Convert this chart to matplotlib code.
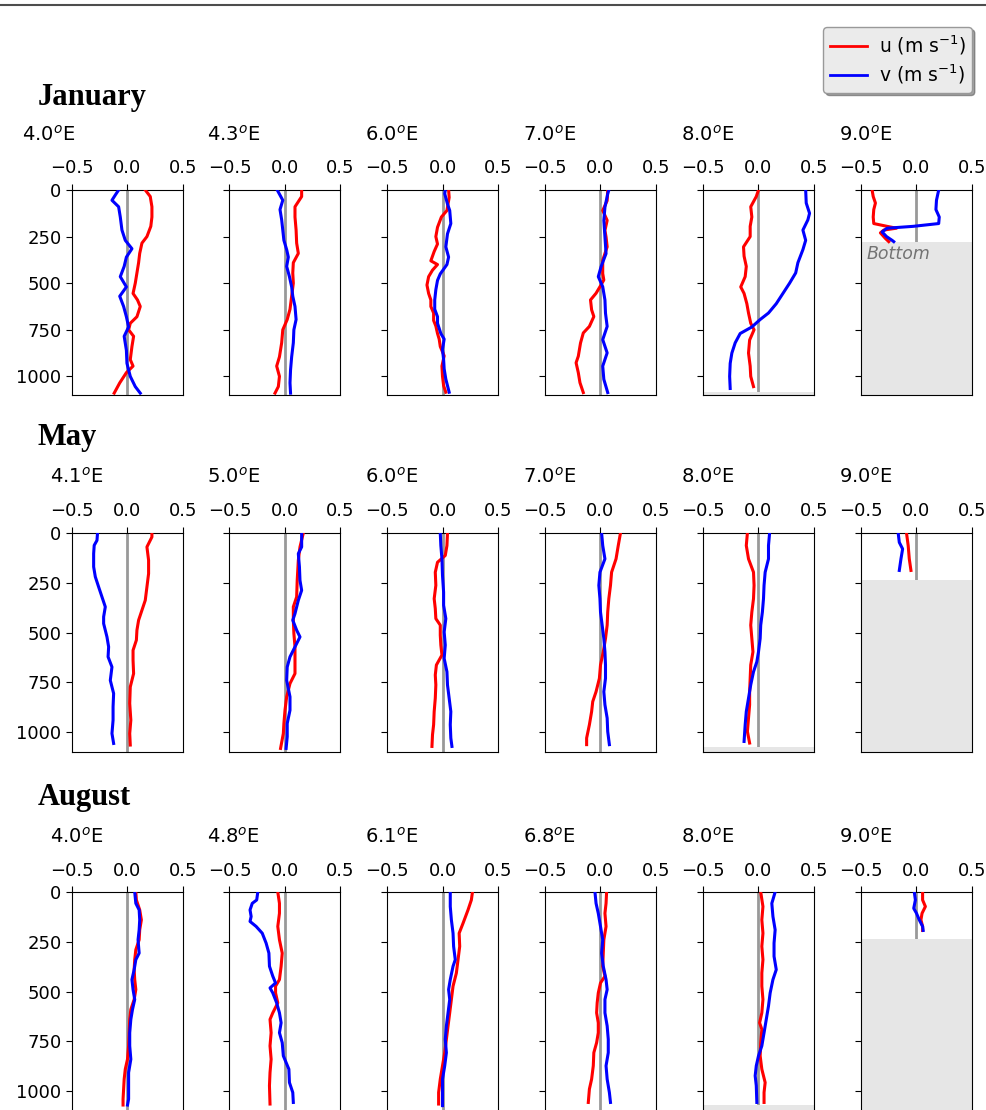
import matplotlib
matplotlib.use('Agg')
import numpy as np
import matplotlib.pyplot as plt
from matplotlib.lines import Line2D

# ---- January ----
jan1_zu = [0, 35, 90, 145, 195, 250, 285, 340, 390, 445, 500, 555, 590, 625, 680, 715, 750, 785, 840, 910, 945, 980, 1035, 1090]
jan1_u = [0.16, 0.205, 0.22, 0.22, 0.21, 0.175, 0.13, 0.11, 0.1, 0.085, 0.07, 0.05, 0.09, 0.115, 0.085, 0.025, 0.01, 0.055, 0.04, 0.025, 0.05, -0.01, -0.07, -0.12]
jan1_zv = [0, 27, 55, 90, 145, 215, 270, 315, 360, 410, 465, 520, 570, 625, 680, 735, 785, 860, 930, 1000, 1055, 1090]
jan1_v = [-0.08, -0.11, -0.14, -0.08, -0.065, -0.05, -0.02, 0.04, -0.01, -0.03, -0.065, -0.01, -0.07, -0.035, -0.01, 0.01, -0.03, -0.01, -0.005, 0.025, 0.07, 0.115]

jan2_zu = [0, 35, 90, 145, 215, 285, 340, 390, 445, 500, 570, 640, 695, 750, 820, 895, 945, 1000, 1055, 1090]
jan2_u = [0.15, 0.15, 0.09, 0.09, 0.1, 0.105, 0.12, 0.075, 0.07, 0.075, 0.06, 0.045, 0.02, -0.02, -0.03, -0.05, -0.075, -0.05, -0.06, -0.09]
jan2_zv = [0, 55, 105, 160, 215, 270, 320, 360, 410, 465, 520, 570, 625, 695, 750, 820, 895, 965, 1035, 1090]
jan2_v = [-0.07, -0.02, -0.045, -0.03, -0.02, -0.01, 0.015, 0.03, 0.015, 0.04, 0.06, 0.07, 0.09, 0.1, 0.08, 0.075, 0.06, 0.05, 0.045, 0.05]

jan3_zu = [0, 40, 110, 145, 200, 250, 290, 330, 380, 400, 430, 465, 510, 555, 590, 625, 660, 700, 730, 770, 800, 840, 890, 945, 1000, 1050, 1085]
jan3_u = [0.055, 0.06, 0.04, -0.01, -0.045, -0.06, -0.045, -0.075, -0.105, -0.045, -0.09, -0.125, -0.14, -0.125, -0.105, -0.105, -0.08, -0.08, -0.06, -0.045, -0.03, -0.02, 0.015, -0.005, 0.0, 0.01, 0.03]
jan3_zv = [0, 20, 75, 110, 180, 235, 305, 360, 400, 450, 485, 535, 590, 640, 680, 715, 770, 800, 855, 910, 960, 1015, 1085]
jan3_v = [0.025, 0.02, 0.045, 0.065, 0.075, 0.045, 0.03, 0.055, 0.04, -0.02, -0.045, -0.06, -0.07, -0.07, -0.045, -0.045, -0.015, 0.015, 0.0, 0.01, 0.015, 0.03, 0.06]

jan4_zu = [0, 57, 110, 163, 217, 252, 305, 377, 448, 483, 519, 554, 590, 643, 679, 732, 767, 821, 892, 927, 980, 1034, 1087]
jan4_u = [0.065, 0.06, 0.02, 0.06, 0.04, 0.05, 0.06, 0.02, 0.02, 0.03, -0.005, -0.04, -0.09, -0.08, -0.06, -0.1, -0.155, -0.18, -0.2, -0.22, -0.2, -0.185, -0.155]
jan4_zv = [0, 21, 92, 163, 252, 341, 412, 465, 519, 590, 661, 732, 803, 874, 945, 1016, 1087]
jan4_v = [0.075, 0.065, 0.04, 0.03, 0.04, 0.05, 0.005, -0.02, 0.02, 0.04, 0.045, 0.06, 0.02, 0.06, 0.02, 0.03, 0.065]

jan5_zu = [0, 35, 90, 145, 195, 250, 305, 355, 410, 465, 520, 555, 610, 660, 715, 750, 805, 875, 945, 1000, 1055]
jan5_u = [0.0, -0.02, -0.07, -0.06, -0.075, -0.075, -0.135, -0.13, -0.11, -0.12, -0.16, -0.13, -0.105, -0.09, -0.07, -0.04, -0.08, -0.09, -0.075, -0.07, -0.045]
jan5_zv = [0, 70, 125, 160, 215, 270, 320, 390, 445, 500, 555, 610, 660, 695, 735, 770, 820, 875, 930, 1000, 1065]
jan5_v = [0.425, 0.43, 0.46, 0.445, 0.4, 0.425, 0.4, 0.355, 0.335, 0.28, 0.22, 0.16, 0.09, 0.015, -0.06, -0.165, -0.21, -0.24, -0.255, -0.26, -0.255]

jan6_zu = [0, 35, 70, 105, 145, 180, 195, 205, 215, 230, 260, 277]
jan6_u = [-0.4, -0.39, -0.37, -0.385, -0.39, -0.385, -0.265, -0.18, -0.295, -0.325, -0.28, -0.25]
jan6_zv = [0, 55, 105, 145, 180, 195, 205, 225, 250, 270, 277]
jan6_v = [0.2, 0.18, 0.175, 0.205, 0.2, -0.03, -0.265, -0.31, -0.27, -0.22, -0.205]

# ---- May ----
may1_zu = [0, 20, 70, 137, 204, 271, 338, 388, 438, 488, 538, 589, 639, 706, 773, 856, 940, 1007, 1065]
may1_u = [0.22, 0.22, 0.175, 0.19, 0.19, 0.175, 0.16, 0.13, 0.1, 0.085, 0.08, 0.05, 0.05, 0.055, 0.025, 0.02, 0.03, 0.02, 0.025]
may1_zv = [0, 37, 62, 104, 170, 220, 271, 321, 371, 421, 455, 522, 572, 622, 673, 740, 806, 873, 940, 1007, 1057]
may1_v = [-0.27, -0.275, -0.3, -0.305, -0.305, -0.29, -0.26, -0.23, -0.2, -0.215, -0.215, -0.185, -0.17, -0.175, -0.14, -0.155, -0.125, -0.13, -0.13, -0.14, -0.125]

may2_zu = [0, 70, 137, 238, 321, 371, 438, 505, 572, 639, 706, 756, 823, 890, 957, 1007, 1082]
may2_u = [0.165, 0.135, 0.12, 0.11, 0.105, 0.075, 0.075, 0.08, 0.09, 0.09, 0.09, 0.045, 0.015, 0.0, -0.01, -0.015, -0.04]
may2_zv = [0, 70, 104, 170, 238, 288, 338, 405, 438, 488, 522, 572, 622, 673, 740, 823, 890, 957, 1023, 1082]
may2_v = [0.15, 0.15, 0.12, 0.13, 0.135, 0.15, 0.12, 0.09, 0.07, 0.105, 0.135, 0.09, 0.045, 0.02, 0.015, 0.045, 0.045, 0.02, 0.02, 0.01]

may3_zu = [0, 63, 113, 147, 197, 263, 330, 380, 430, 463, 513, 563, 613, 663, 713, 763, 830, 897, 963, 1013, 1072]
may3_u = [0.045, 0.04, 0.025, -0.045, -0.065, -0.06, -0.075, -0.065, -0.06, -0.02, -0.02, -0.015, -0.005, -0.055, -0.065, -0.06, -0.065, -0.075, -0.08, -0.09, -0.095]
may3_zv = [0, 63, 130, 213, 297, 363, 430, 497, 563, 630, 697, 763, 830, 897, 963, 1030, 1072]
may3_v = [-0.02, -0.015, -0.005, 0.0, 0.01, 0.01, 0.03, 0.015, 0.025, 0.015, 0.04, 0.045, 0.06, 0.075, 0.07, 0.075, 0.085]

may4_zu = [0, 63, 130, 197, 263, 330, 397, 463, 530, 597, 663, 730, 797, 847, 897, 963, 1030, 1063]
may4_u = [0.18, 0.16, 0.14, 0.1, 0.09, 0.075, 0.065, 0.06, 0.045, 0.025, 0.0, -0.01, -0.04, -0.07, -0.08, -0.1, -0.125, -0.125]
may4_zv = [0, 63, 130, 197, 263, 330, 397, 463, 530, 597, 663, 730, 797, 863, 930, 997, 1063]
may4_v = [0.01, 0.02, 0.04, -0.005, -0.015, -0.005, 0.0, 0.015, 0.03, 0.04, 0.045, 0.045, 0.03, 0.04, 0.06, 0.065, 0.08]

may5_zu = [0, 63, 130, 197, 263, 330, 397, 463, 530, 597, 663, 730, 797, 863, 930, 997, 1055]
may5_u = [-0.1, -0.11, -0.09, -0.045, -0.04, -0.045, -0.06, -0.07, -0.06, -0.05, -0.07, -0.075, -0.08, -0.08, -0.09, -0.1, -0.08]
may5_zv = [0, 63, 130, 197, 263, 330, 397, 463, 530, 597, 647, 697, 763, 830, 897, 963, 1047]
may5_v = [0.1, 0.09, 0.09, 0.06, 0.05, 0.045, 0.035, 0.02, 0.015, 0.0, -0.015, -0.045, -0.07, -0.09, -0.11, -0.12, -0.13]

may6_zu = [0, 63, 130, 188]
may6_u = [-0.09, -0.075, -0.065, -0.05]
may6_zv = [0, 47, 80, 130, 188]
may6_v = [-0.165, -0.155, -0.125, -0.14, -0.155]

# ---- August ----
aug1_zu = [0, 40, 90, 140, 190, 240, 290, 340, 390, 440, 490, 540, 590, 640, 707, 773, 840, 890, 940, 990, 1040, 1070]
aug1_u = [0.075, 0.08, 0.11, 0.125, 0.11, 0.105, 0.075, 0.065, 0.06, 0.065, 0.075, 0.06, 0.03, 0.02, 0.015, 0.01, 0.0, -0.02, -0.03, -0.035, -0.04, -0.04]
aug1_zv = [0, 57, 90, 140, 190, 240, 307, 340, 390, 440, 490, 540, 590, 640, 707, 773, 840, 907, 973, 1040, 1070]
aug1_v = [0.065, 0.075, 0.105, 0.11, 0.105, 0.095, 0.105, 0.075, 0.06, 0.04, 0.05, 0.065, 0.045, 0.03, 0.02, 0.02, 0.03, 0.01, 0.01, 0.01, 0.0]

aug2_zu = [0, 57, 107, 173, 240, 307, 373, 440, 473, 507, 557, 607, 640, 707, 773, 840, 907, 973, 1065]
aug2_u = [-0.065, -0.05, -0.05, -0.065, -0.05, -0.025, -0.035, -0.05, -0.085, -0.085, -0.065, -0.11, -0.135, -0.125, -0.135, -0.125, -0.135, -0.14, -0.135]
aug2_zv = [0, 40, 57, 90, 123, 148, 173, 207, 257, 307, 373, 423, 457, 482, 507, 557, 607, 657, 707, 757, 823, 890, 957, 1007, 1057]
aug2_v = [-0.245, -0.255, -0.295, -0.315, -0.305, -0.315, -0.26, -0.205, -0.17, -0.145, -0.14, -0.11, -0.085, -0.135, -0.11, -0.075, -0.05, -0.035, -0.05, -0.025, -0.015, 0.035, 0.04, 0.07, 0.075]

aug3_zu = [0, 40, 90, 157, 207, 273, 340, 407, 473, 540, 607, 673, 740, 807, 873, 940, 1007, 1065]
aug3_u = [0.27, 0.26, 0.23, 0.185, 0.15, 0.155, 0.14, 0.125, 0.095, 0.08, 0.065, 0.05, 0.035, 0.02, 0.0, -0.02, -0.035, -0.035]
aug3_zv = [0, 73, 140, 207, 273, 340, 373, 440, 490, 540, 607, 673, 740, 807, 873, 940, 1007, 1073]
aug3_v = [0.07, 0.07, 0.08, 0.095, 0.1, 0.115, 0.095, 0.07, 0.055, 0.065, 0.05, 0.035, 0.025, 0.035, 0.02, 0.0, 0.0, 0.0]

aug4_zu = [0, 57, 107, 173, 240, 307, 373, 423, 457, 507, 557, 607, 657, 707, 757, 807, 873, 940, 990, 1057]
aug4_u = [0.055, 0.05, 0.04, 0.05, 0.03, 0.025, 0.02, 0.04, 0.0, -0.02, -0.03, -0.035, -0.02, -0.02, -0.035, -0.06, -0.065, -0.08, -0.1, -0.11]
aug4_zv = [0, 57, 107, 173, 240, 307, 373, 440, 490, 540, 607, 673, 740, 807, 873, 940, 1007, 1057]
aug4_v = [-0.05, -0.04, -0.02, 0.0, 0.02, 0.01, 0.025, 0.05, 0.06, 0.04, 0.04, 0.06, 0.07, 0.07, 0.05, 0.06, 0.08, 0.09]

aug5_zu = [0, 73, 140, 207, 273, 340, 407, 473, 540, 607, 657, 690, 757, 823, 890, 957, 1007, 1057]
aug5_u = [0.02, 0.04, 0.03, 0.04, 0.03, 0.04, 0.03, 0.03, 0.04, 0.03, 0.01, 0.03, 0.02, 0.015, 0.03, 0.06, 0.05, 0.05]
aug5_zv = [0, 57, 123, 190, 257, 323, 390, 440, 507, 573, 640, 707, 773, 823, 873, 923, 973, 1057]
aug5_v = [0.15, 0.12, 0.13, 0.15, 0.14, 0.14, 0.16, 0.13, 0.105, 0.09, 0.07, 0.05, 0.03, 0.0, -0.02, -0.03, -0.02, -0.015]

aug6_zu = [0, 40, 73, 107, 140, 173, 193]
aug6_u = [0.055, 0.055, 0.08, 0.05, 0.04, 0.055, 0.055]
aug6_zv = [0, 40, 82, 107, 140, 173, 193]
aug6_v = [-0.02, -0.01, -0.025, 0.0, 0.025, 0.055, 0.06]

months = ['January', 'May', 'August']
jan_lon = ['4.0', '4.3', '6.0', '7.0', '8.0', '9.0']
may_lon = ['4.1', '5.0', '6.0', '7.0', '8.0', '9.0']
aug_lon = ['4.0', '4.8', '6.1', '6.8', '8.0', '9.0']
# sea floor depth (None = deeper than the plot)
jan_bottom = [None, None, None, None, 1085, 277]
may_bottom = [None, None, None, None, 1075, 235]
aug_bottom = [None, None, None, None, 1070, 235]

rows = [
    (jan_lon, jan_bottom, [(jan1_zu, jan1_u, jan1_zv, jan1_v), (jan2_zu, jan2_u, jan2_zv, jan2_v),
                           (jan3_zu, jan3_u, jan3_zv, jan3_v), (jan4_zu, jan4_u, jan4_zv, jan4_v),
                           (jan5_zu, jan5_u, jan5_zv, jan5_v), (jan6_zu, jan6_u, jan6_zv, jan6_v)]),
    (may_lon, may_bottom, [(may1_zu, may1_u, may1_zv, may1_v), (may2_zu, may2_u, may2_zv, may2_v),
                           (may3_zu, may3_u, may3_zv, may3_v), (may4_zu, may4_u, may4_zv, may4_v),
                           (may5_zu, may5_u, may5_zv, may5_v), (may6_zu, may6_u, may6_zv, may6_v)]),
    (aug_lon, aug_bottom, [(aug1_zu, aug1_u, aug1_zv, aug1_v), (aug2_zu, aug2_u, aug2_zv, aug2_v),
                           (aug3_zu, aug3_u, aug3_zv, aug3_v), (aug4_zu, aug4_u, aug4_zv, aug4_v),
                           (aug5_zu, aug5_u, aug5_zv, aug5_v), (aug6_zu, aug6_u, aug6_zv, aug6_v)]),
]

W, H = 987, 1110
fig = plt.figure(figsize=(W / 100, H / 100), dpi=100)

lefts = [72, 229.5, 387, 545, 703, 861]
aw = 111
tops = [190, 533, 892]
heights = [205, 219, 219]
month_y = [98, 438, 797]
title_base = [141, 483, 843]

for r, (lons, bots, profs) in enumerate(rows):
    fig.text(38 / W, 1 - month_y[r] / H, months[r], fontfamily='Liberation Serif',
             fontweight='bold', fontsize=22, va='center')
    for c in range(6):
        x0 = lefts[c]
        ax = fig.add_axes([x0 / W, 1 - (tops[r] + heights[r]) / H, aw / W, heights[r] / H])
        zu, u, zv, v = profs[c]
        ax.axvline(0, color='0.6', lw=2, zorder=1)
        if bots[c] is not None:
            ax.axhspan(bots[c], 1100, color='0.9', lw=0, zorder=2)
        ax.plot(u, zu, color='r', lw=2.2, zorder=3)
        ax.plot(v, zv, color='b', lw=2.2, zorder=3)
        if r == 0 and c == 5:
            ax.text(-0.45, bots[c] + 20, 'Bottom', style='italic', color='0.45',
                    fontsize=12.5, va='top', zorder=4)
        ax.set_xlim(-0.5, 0.5)
        ax.set_ylim(1100, 0)
        ax.set_xticks([-0.5, 0.0, 0.5])
        ax.set_yticks([0, 250, 500, 750, 1000])
        ax.xaxis.tick_top()
        ax.tick_params(axis='x', labelsize=13, pad=4.5, length=4.5)
        ax.tick_params(axis='y', labelsize=13, length=4.5, pad=3)
        if c > 0:
            ax.set_yticklabels([])
        tx = 22 if (r == 0 and c == 0) else x0 - 22
        fig.text(tx / W, 1 - title_base[r] / H, lons[c] + '$^o$E', fontsize=14, va='baseline')

# thin rule along the top of the page
fig.add_artist(Line2D([0, 1], [1 - 5 / H, 1 - 5 / H], color='0.3', lw=1.5, transform=fig.transFigure))

handles = [Line2D([], [], color='r', lw=2), Line2D([], [], color='b', lw=2)]
fig.legend(handles, ['u (m s$^{-1}$)', 'v (m s$^{-1}$)'], loc='upper right',
           bbox_to_anchor=(972 / W, 1 - 27 / H), borderaxespad=0, fontsize=13.5,
           labelspacing=0.3, borderpad=0.35, handletextpad=0.6, handlelength=2.0,
           shadow=True, facecolor='0.92', edgecolor='0.6', framealpha=1)

fig.savefig('out.png', dpi=100)
